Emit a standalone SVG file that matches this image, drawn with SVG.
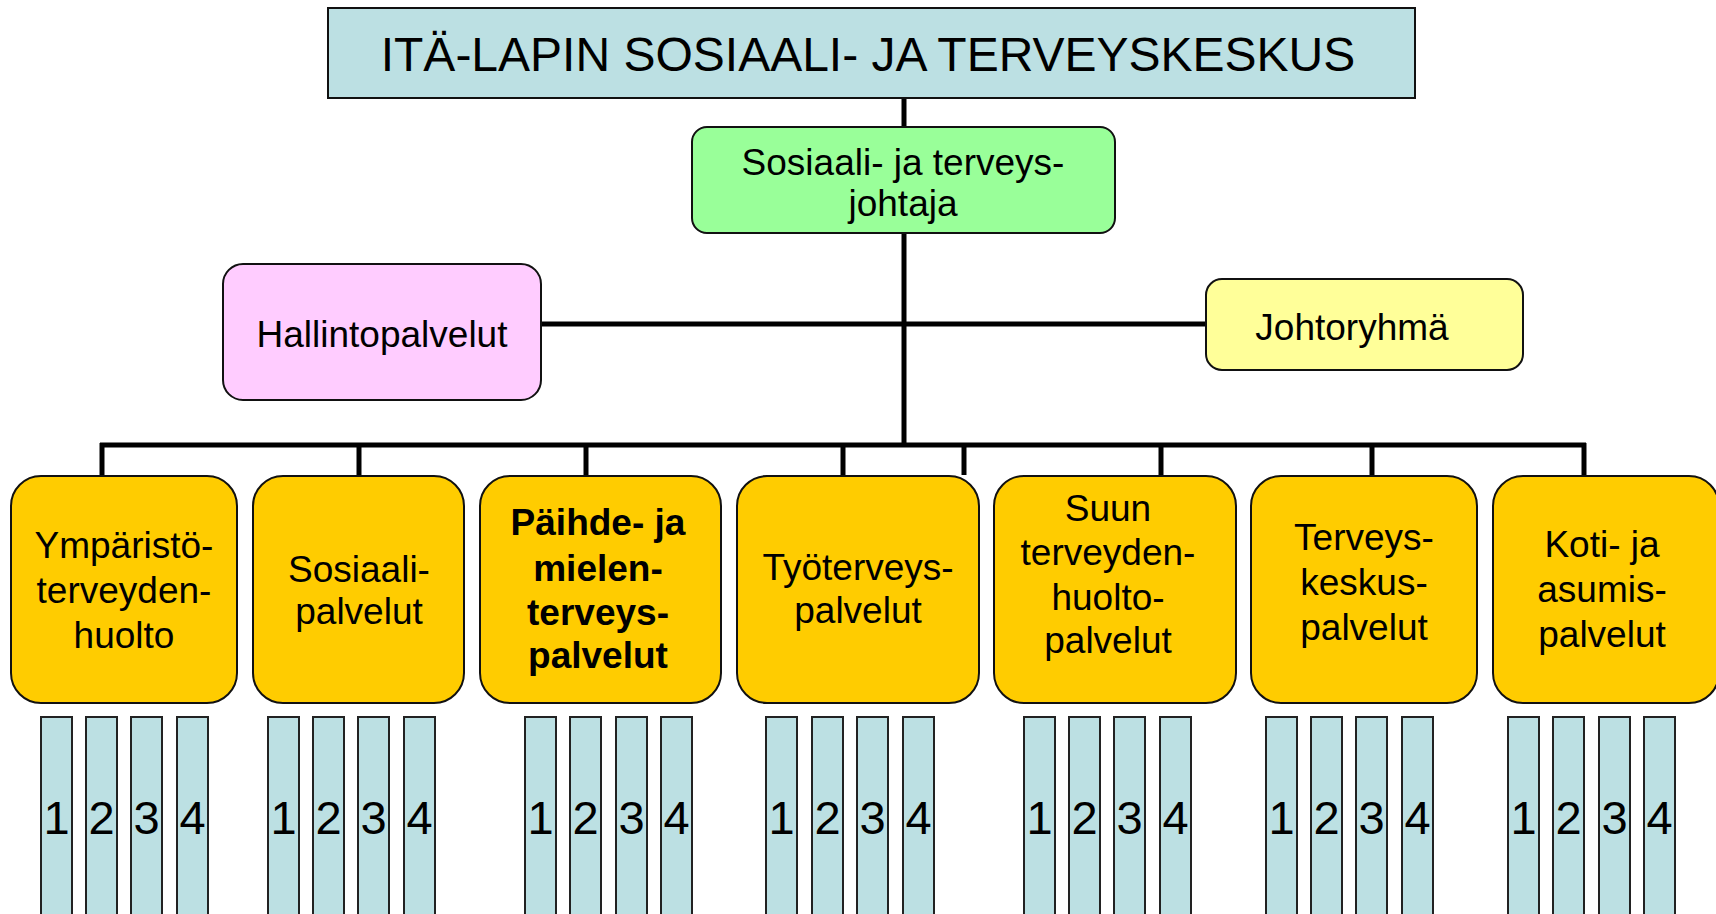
<svg xmlns="http://www.w3.org/2000/svg" width="1716" height="914" viewBox="0 0 1716 914">
<style>
text{font-family:"Liberation Sans",Arial,sans-serif;fill:#000;text-anchor:middle}
.t37{font-size:37px}
.b{font-weight:bold}
.box{stroke:#111;stroke-width:2}
.org{fill:#FFCC00;stroke:#111;stroke-width:2}
.bar{fill:#BCE0E3;stroke:#222;stroke-width:2}
.dig{font-size:47px}
.con{stroke:#000;stroke-width:5;fill:none}
</style>
<rect width="1716" height="914" fill="#fff"/>
<g id="connectors">
<line class="con" x1="904" y1="97" x2="904" y2="445"/>
<line class="con" x1="541" y1="324" x2="1206" y2="324"/>
<line class="con" x1="100" y1="445" x2="1586" y2="445"/>
<line class="con" x1="102" y1="443" x2="102" y2="476"/>
<line class="con" x1="359" y1="445" x2="359" y2="476"/>
<line class="con" x1="586" y1="445" x2="586" y2="476"/>
<line class="con" x1="843" y1="445" x2="843" y2="476"/>
<line class="con" x1="964" y1="445" x2="964" y2="475"/>
<line class="con" x1="1161" y1="445" x2="1161" y2="476"/>
<line class="con" x1="1372" y1="445" x2="1372" y2="476"/>
<line class="con" x1="1584" y1="443" x2="1584" y2="476"/>
</g>
<g id="title">
<rect class="box" x="328" y="8" width="1087" height="90" fill="#BCE0E3"/>
<text x="868" y="71" style="font-size:48px">ITÄ-LAPIN SOSIAALI- JA TERVEYSKESKUS</text>
</g>
<g id="johtaja">
<rect class="box" x="692" y="127" width="423" height="106" rx="15" fill="#99FF99"/>
<text class="t37" x="903" y="175">Sosiaali- ja terveys-</text>
<text class="t37" x="903" y="216">johtaja</text>
</g>
<g id="hallinto">
<rect class="box" x="223" y="264" width="318" height="136" rx="20" fill="#FFCCFF"/>
<text class="t37" x="382" y="347">Hallintopalvelut</text>
</g>
<g id="johtoryhma">
<rect class="box" x="1206" y="279" width="317" height="91" rx="16" fill="#FFFF99"/>
<text class="t37" x="1352" y="340">Johtoryhmä</text>
</g>
<g id="unit1">
<rect class="org" x="11" y="476" width="226" height="227" rx="30"/>
<text class="t37" x="124" y="558">Ympäristö-</text>
<text class="t37" x="124" y="603">terveyden-</text>
<text class="t37" x="124" y="648">huolto</text>
</g>
<g id="unit2">
<rect class="org" x="253" y="476" width="211" height="227" rx="30"/>
<text class="t37" x="359" y="582">Sosiaali-</text>
<text class="t37" x="359" y="624">palvelut</text>
</g>
<g id="unit3">
<rect class="org" x="480" y="476" width="241" height="227" rx="30"/>
<text class="t37 b" x="598" y="535">Päihde- ja</text>
<text class="t37 b" x="598" y="581">mielen-</text>
<text class="t37 b" x="598" y="625">terveys-</text>
<text class="t37 b" x="598" y="668">palvelut</text>
</g>
<g id="unit4">
<rect class="org" x="737" y="476" width="242" height="227" rx="30"/>
<text class="t37" x="858" y="580">Työterveys-</text>
<text class="t37" x="858" y="623">palvelut</text>
</g>
<g id="unit5">
<rect class="org" x="994" y="476" width="242" height="227" rx="30"/>
<text class="t37" x="1108" y="521">Suun</text>
<text class="t37" x="1108" y="565">terveyden-</text>
<text class="t37" x="1108" y="610">huolto-</text>
<text class="t37" x="1108" y="653">palvelut</text>
</g>
<g id="unit6">
<rect class="org" x="1251" y="476" width="226" height="227" rx="30"/>
<text class="t37" x="1364" y="550">Terveys-</text>
<text class="t37" x="1364" y="595">keskus-</text>
<text class="t37" x="1364" y="640">palvelut</text>
</g>
<g id="unit7">
<rect class="org" x="1493" y="476" width="226" height="227" rx="30"/>
<text class="t37" x="1602" y="557">Koti- ja</text>
<text class="t37" x="1602" y="602">asumis-</text>
<text class="t37" x="1602" y="647">palvelut</text>
</g>
<g id="bars1">
<rect class="bar" x="41" y="717" width="31" height="210"/><text class="dig" x="56.5" y="834">1</text>
<rect class="bar" x="86" y="717" width="31" height="210"/><text class="dig" x="101.5" y="834">2</text>
<rect class="bar" x="131" y="717" width="31" height="210"/><text class="dig" x="146.5" y="834">3</text>
<rect class="bar" x="177" y="717" width="31" height="210"/><text class="dig" x="192.5" y="834">4</text>
</g>
<g id="bars2">
<rect class="bar" x="268" y="717" width="31" height="210"/><text class="dig" x="283.5" y="834">1</text>
<rect class="bar" x="313" y="717" width="31" height="210"/><text class="dig" x="328.5" y="834">2</text>
<rect class="bar" x="358" y="717" width="31" height="210"/><text class="dig" x="373.5" y="834">3</text>
<rect class="bar" x="404" y="717" width="31" height="210"/><text class="dig" x="419.5" y="834">4</text>
</g>
<g id="bars3">
<rect class="bar" x="525" y="717" width="31" height="210"/><text class="dig" x="540.5" y="834">1</text>
<rect class="bar" x="570" y="717" width="31" height="210"/><text class="dig" x="585.5" y="834">2</text>
<rect class="bar" x="616" y="717" width="31" height="210"/><text class="dig" x="631.5" y="834">3</text>
<rect class="bar" x="661" y="717" width="31" height="210"/><text class="dig" x="676.5" y="834">4</text>
</g>
<g id="bars4">
<rect class="bar" x="766" y="717" width="31" height="210"/><text class="dig" x="781.5" y="834">1</text>
<rect class="bar" x="812" y="717" width="31" height="210"/><text class="dig" x="827.5" y="834">2</text>
<rect class="bar" x="857" y="717" width="31" height="210"/><text class="dig" x="872.5" y="834">3</text>
<rect class="bar" x="903" y="717" width="31" height="210"/><text class="dig" x="918.5" y="834">4</text>
</g>
<g id="bars5">
<rect class="bar" x="1024" y="717" width="31" height="210"/><text class="dig" x="1039.5" y="834">1</text>
<rect class="bar" x="1069" y="717" width="31" height="210"/><text class="dig" x="1084.5" y="834">2</text>
<rect class="bar" x="1114" y="717" width="31" height="210"/><text class="dig" x="1129.5" y="834">3</text>
<rect class="bar" x="1160" y="717" width="31" height="210"/><text class="dig" x="1175.5" y="834">4</text>
</g>
<g id="bars6">
<rect class="bar" x="1266" y="717" width="31" height="210"/><text class="dig" x="1281.5" y="834">1</text>
<rect class="bar" x="1311" y="717" width="31" height="210"/><text class="dig" x="1326.5" y="834">2</text>
<rect class="bar" x="1356" y="717" width="31" height="210"/><text class="dig" x="1371.5" y="834">3</text>
<rect class="bar" x="1402" y="717" width="31" height="210"/><text class="dig" x="1417.5" y="834">4</text>
</g>
<g id="bars7">
<rect class="bar" x="1508" y="717" width="31" height="210"/><text class="dig" x="1523.5" y="834">1</text>
<rect class="bar" x="1553" y="717" width="31" height="210"/><text class="dig" x="1568.5" y="834">2</text>
<rect class="bar" x="1599" y="717" width="31" height="210"/><text class="dig" x="1614.5" y="834">3</text>
<rect class="bar" x="1644" y="717" width="31" height="210"/><text class="dig" x="1659.5" y="834">4</text>
</g>
</svg>
